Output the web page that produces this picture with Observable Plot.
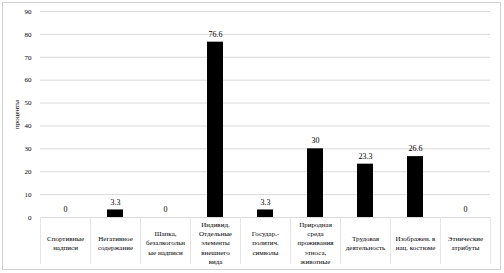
<!DOCTYPE html>
<html>
<head>
<meta charset="utf-8">
<script src="https://cdn.jsdelivr.net/npm/d3@7"></script>
<script src="https://cdn.jsdelivr.net/npm/@observablehq/plot@0.6"></script>
<style>
  html, body { margin: 0; padding: 0; background: #fff; }
  #chart { width: 504px; height: 273px; position: relative; }
</style>
</head>
<body>
<div id="chart"></div>
<script>
const categories = [
  "Спортивные\nнадписи",
  "Негативное\nсодержание",
  "Шапка,\nбезалкогольн\nые надписи",
  "Индивид.\nОтдельные\nэлементы\nвнешнего\nвида",
  "Государ.-\nполитич.\nсимволы",
  "Природная\nсреда\nпроживания\nэтноса,\nживотные",
  "Трудовая\nдеятельность",
  "Изображен. в\nнац. костюме",
  "Этнические\nатрибуты"
];
const values = [0, 3.3, 0, 76.6, 3.3, 30, 23.3, 26.6, 0];
const valueLabels = ["0", "3.3", "0", "76.6", "3.3", "30", "23.3", "26.6", "0"];
const yTicks = [0, 10, 20, 30, 40, 50, 60, 70, 80, 90];
const yTitle = "проценты";

const data = categories.map((c, i) => ({c, v: values[i], label: valueLabels[i]}));
const font = "'Liberation Serif', 'Times New Roman', serif";

const plot = Plot.plot({
  width: 504,
  height: 273,
  marginLeft: 40,
  marginRight: 14,
  marginTop: 11,
  marginBottom: 56,
  style: {fontFamily: font, fontSize: "7px", color: "#000", background: "#fff"},
  x: {domain: categories, paddingInner: 0.68, paddingOuter: 0.34},
  y: {domain: [0, 90]},
  marks: [
    Plot.gridY(yTicks, {stroke: "#d9d9d9", strokeOpacity: 1}),
    Plot.ruleX(categories, {x: d => d, y1: 0, y2: -20.5, dx: -25, stroke: "#e6e6e6"}),
    Plot.ruleX(categories.slice(-1), {x: d => d, y1: 0, y2: -20.5, dx: 25, stroke: "#e6e6e6"}),
    Plot.barY(data, {x: "c", y: "v", fill: "#000"}),
    Plot.text(data, {x: "c", y: "v", text: "label", dy: -8, fontSize: 8, fill: "#000"}),
    Plot.axisY(yTicks, {tickSize: 0, tickPadding: 9, label: yTitle, labelAnchor: "center", labelArrow: "none", labelOffset: 26, fontSize: 7}),
    Plot.axisX({tickSize: 0, tickPadding: 25, lineAnchor: "middle", lineHeight: 1.3, fontSize: 7, label: null})
  ]
});
document.getElementById("chart").appendChild(plot);
d3.select(plot).append("rect")
  .attr("x", 2.5).attr("y", 2.5).attr("width", 498).attr("height", 267)
  .attr("fill", "none").attr("stroke", "#d0d0d0");
</script>
</body>
</html>
